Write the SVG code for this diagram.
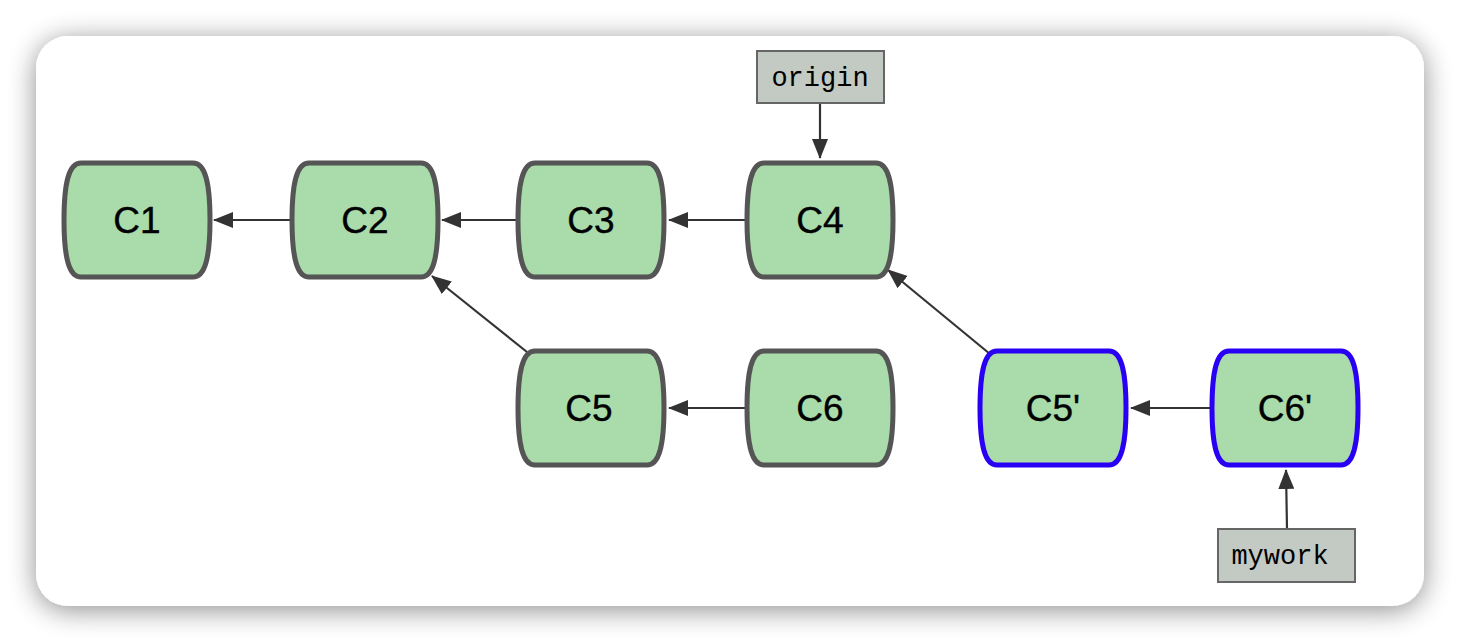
<svg xmlns="http://www.w3.org/2000/svg" width="1460" height="642" viewBox="0 0 1460 642">
<style>
.node{fill:#a9dcaa;stroke:#555;stroke-width:5}
.blue{stroke:#2a00f5}
.lbl{font-family:"Liberation Sans",Arial,sans-serif;font-size:37px;fill:#000;text-anchor:middle;stroke:#000;stroke-width:0.4}
.ref{fill:#c3c9c3;stroke:#666;stroke-width:2}
.reft{font-family:"Liberation Mono","DejaVu Sans Mono",monospace;font-size:27px;fill:#000;text-anchor:middle}
.edge{stroke:#333;stroke-width:2.2;fill:none;marker-end:url(#ah)}
</style>
<defs>
<filter id="sh" x="-10%" y="-10%" width="120%" height="130%">
<feGaussianBlur in="SourceAlpha" stdDeviation="14"/>
<feOffset dy="4"/>
<feComponentTransfer><feFuncA type="linear" slope="0.45"/></feComponentTransfer>
<feMerge><feMergeNode/><feMergeNode in="SourceGraphic"/></feMerge>
</filter>
<marker id="ah" viewBox="0 0 20 16" refX="19" refY="8" markerWidth="20" markerHeight="16" markerUnits="userSpaceOnUse" orient="auto">
<path d="M0,0 L20,8 L0,16 Z" fill="#333"/>
</marker>
<path id="shape" d="M-56,-57 H56 C68,-57 73,-38 73,0 C73,38 68,57 56,57 H-56 C-68,57 -73,38 -73,0 C-73,-38 -68,-57 -56,-57 Z"/>
</defs>
<rect width="1460" height="642" fill="#ffffff"/>
<rect x="36" y="36" width="1388" height="570" rx="32" fill="#ffffff" filter="url(#sh)"/>
<g id="connectors">
<line class="edge" x1="292" y1="220" x2="214" y2="220"/>
<line class="edge" x1="518" y1="220" x2="442" y2="220"/>
<line class="edge" x1="748" y1="220" x2="669" y2="220"/>
<line class="edge" x1="748" y1="408" x2="669" y2="408"/>
<line class="edge" x1="1212" y1="408" x2="1131" y2="408"/>
<line class="edge" x1="527" y1="352" x2="432" y2="276"/>
<line class="edge" x1="990" y1="354" x2="888" y2="270"/>
<line class="edge" x1="820" y1="103" x2="820" y2="158"/>
<line class="edge" x1="1287" y1="529" x2="1286" y2="470"/>
</g>
<g id="C1"><use href="#shape" class="node" x="137" y="220"/><text class="lbl" x="137" y="233">C1</text></g>
<g id="C2"><use href="#shape" class="node" x="365" y="220"/><text class="lbl" x="365" y="233">C2</text></g>
<g id="C3"><use href="#shape" class="node" x="591" y="220"/><text class="lbl" x="591" y="233">C3</text></g>
<g id="C4"><use href="#shape" class="node" x="820" y="220"/><text class="lbl" x="820" y="233">C4</text></g>
<g id="C5"><use href="#shape" class="node" x="591" y="408"/><text class="lbl" x="589" y="421">C5</text></g>
<g id="C6"><use href="#shape" class="node" x="820" y="408"/><text class="lbl" x="820" y="421">C6</text></g>
<g id="C5p"><use href="#shape" class="node blue" x="1053" y="408"/><text class="lbl" x="1053" y="421">C5'</text></g>
<g id="C6p"><use href="#shape" class="node blue" x="1285" y="408"/><text class="lbl" x="1285" y="421">C6'</text></g>
<g id="origin"><rect class="ref" x="757" y="51" width="127" height="52"/><text class="reft" x="820" y="86">origin</text></g>
<g id="mywork"><rect class="ref" x="1218" y="529" width="137" height="53"/><text class="reft" x="1280" y="564">mywork</text></g>
</svg>
